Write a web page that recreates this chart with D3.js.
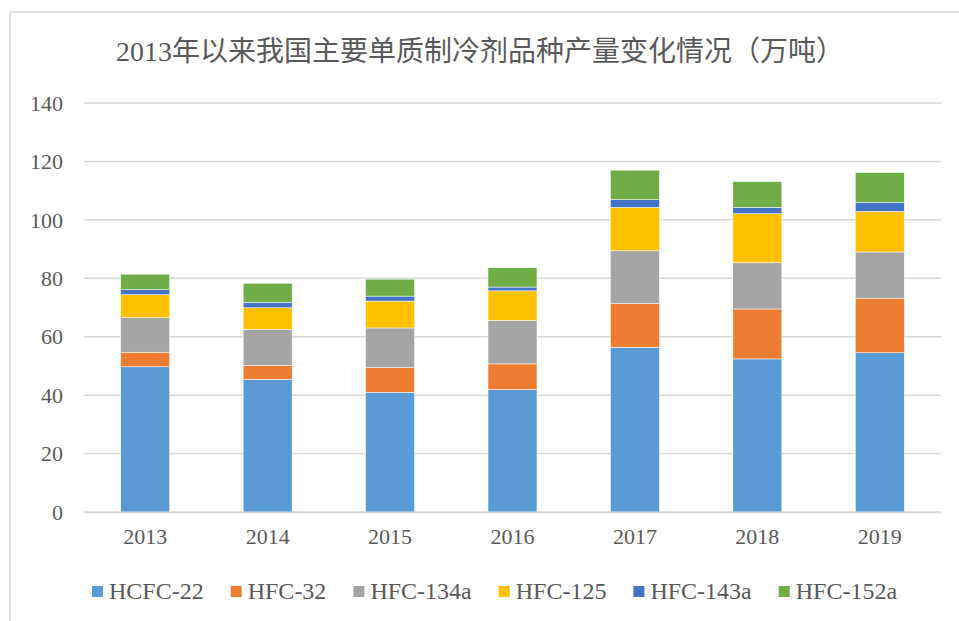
<!DOCTYPE html>
<html>
<head>
<meta charset="utf-8">
<script src="https://cdn.jsdelivr.net/npm/d3@7"></script>
<style>
body { margin: 0; background: #fff; }
text { font-family: "Liberation Serif", "Noto Sans CJK SC", serif; fill: #595959; }
</style>
</head>
<body>
<script>
var years = ["2013", "2014", "2015", "2016", "2017", "2018", "2019"];
var seriesNames = ["HCFC-22", "HFC-32", "HFC-134a", "HFC-125", "HFC-143a", "HFC-152a"];
var colors = ["#5B9BD5", "#ED7D31", "#A5A5A5", "#FFC000", "#4472C4", "#70AD47"];

var hcfc22  = [49.7, 45.4, 41.0, 41.9, 56.4, 52.4, 54.5];
var hfc32   = [5.0, 4.8, 8.4, 8.8, 14.9, 17.1, 18.7];
var hfc134a = [11.8, 12.3, 13.6, 14.9, 18.1, 15.8, 15.8];
var hfc125  = [7.9, 7.4, 9.2, 10.1, 14.9, 16.8, 13.9];
var hfc143a = [1.7, 1.9, 1.7, 1.3, 2.6, 2.2, 3.1];
var hfc152a = [5.3, 6.5, 5.8, 6.6, 10.1, 8.8, 10.2];

var yTicks = [0, 20, 40, 60, 80, 100, 120, 140];
var title = "2013年以来我国主要单质制冷剂品种产量变化情况（万吨）";

var W = 959, H = 621;
var plotLeft = 84, plotRight = 941, plotTop = 103, plotBottom = 512;

var rows = years.map(function(y, i){
	return {year: y, "HCFC-22": hcfc22[i], "HFC-32": hfc32[i], "HFC-134a": hfc134a[i],
		"HFC-125": hfc125[i], "HFC-143a": hfc143a[i], "HFC-152a": hfc152a[i]};
});

var svg = d3.select("body").append("svg")
	.attr("width", W)
	.attr("height", H);

// chart frame (runs off the right and bottom of the picture)
svg.append("rect")
	.attr("x", 10).attr("y", 12)
	.attr("width", 980).attr("height", 640)
	.attr("fill", "#fff")
	.attr("stroke", "#d9d9d9")
	.attr("stroke-width", 1.5);

var x = d3.scaleBand()
	.domain(years)
	.range([plotLeft, plotRight])
	.paddingInner(0.6)
	.paddingOuter(0.3);

var y = d3.scaleLinear()
	.domain([0, 140])
	.range([plotBottom, plotTop]);

// gridlines
svg.selectAll(".grid")
	.data(yTicks)
	.enter().append("line")
	.attr("class", "grid")
	.attr("x1", plotLeft).attr("x2", plotRight)
	.attr("y1", function(d){ return y(d); })
	.attr("y2", function(d){ return y(d); })
	.attr("stroke", "#d9d9d9")
	.attr("stroke-width", 1.5);

// y labels
svg.selectAll(".ylab")
	.data(yTicks)
	.enter().append("text")
	.attr("class", "ylab")
	.attr("x", 63)
	.attr("y", function(d){ return y(d); })
	.attr("dy", "0.35em")
	.attr("text-anchor", "end")
	.style("font-size", "22px")
	.text(function(d){ return d; });

// stacked bars
var stack = d3.stack().keys(seriesNames)(rows);

var layer = svg.selectAll(".layer")
	.data(stack)
	.enter().append("g")
	.attr("class", "layer")
	.attr("fill", function(d, i){ return colors[i]; });

layer.selectAll("rect")
	.data(function(d){ return d; })
	.enter().append("rect")
	.attr("x", function(d){ return x(d.data.year); })
	.attr("width", x.bandwidth())
	.attr("y", function(d){ return y(d[1]); })
	.attr("height", function(d){ return y(d[0]) - y(d[1]); })
	.attr("stroke", "#fff")
	.attr("stroke-width", 0.5);

// x axis
var xAxis = svg.append("g")
	.attr("transform", "translate(0," + plotBottom + ")")
	.call(d3.axisBottom(x).tickSize(0).tickPadding(16));
xAxis.select(".domain").attr("stroke", "#d9d9d9").attr("stroke-width", 1.5);
xAxis.selectAll("text")
	.attr("fill", "#595959")
	.style("font-family", "Liberation Serif")
	.style("font-size", "22px");

// title
svg.append("text")
	.attr("x", 480)
	.attr("y", 61)
	.attr("text-anchor", "middle")
	.style("font-size", "28px")
	.text(title);

// legend
var legend = svg.append("g").attr("transform", "translate(92,591)");
var lx = 0;
seriesNames.forEach(function(name, i){
	var g = legend.append("g").attr("transform", "translate(" + lx + ",0)");
	g.append("rect")
		.attr("x", 0).attr("y", -5)
		.attr("width", 11).attr("height", 11)
		.attr("fill", colors[i]);
	var t = g.append("text")
		.attr("x", 17)
		.attr("y", 0)
		.attr("dy", "0.35em")
		.style("font-size", "24px")
		.text(name);
	lx += 17 + t.node().getComputedTextLength() + 27;
});
</script>
</body>
</html>
